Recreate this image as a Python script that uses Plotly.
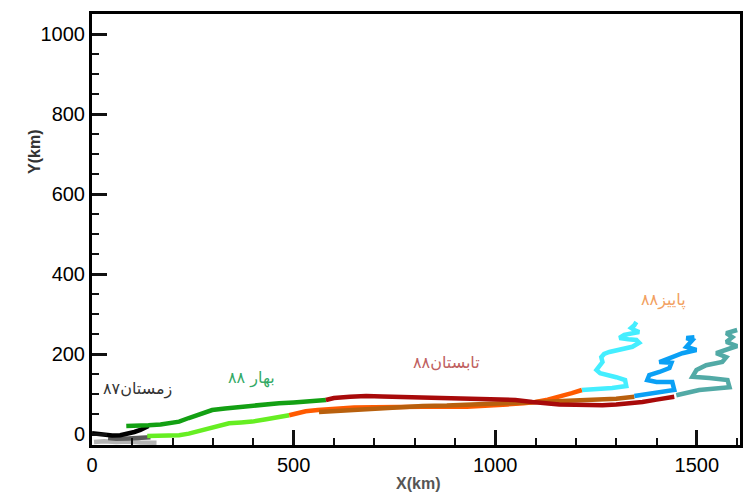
import plotly.graph_objects as go

# ---- data (km) ----
light_gray_x = [5, 30, 60, 90, 120, 150, 160]
light_gray_y = [-20, -18, -20, -19, -21, -20, -22]

dark_gray_x = [40, 60, 90, 110, 135, 145]
dark_gray_y = [-10, -12, -11, -9, -7, -8]

black_x = [0, 15, 30, 50, 70, 90, 105, 120, 135, 140]
black_y = [2, 0, -3, -4, -3, 0, 5, 10, 16, 20]

dark_green_x = [85, 110, 140, 170, 200, 216, 240, 258, 280, 298, 330, 365, 400, 430, 464, 500, 540, 580]
dark_green_y = [20, 20, 22, 24, 27, 31, 40, 47, 54, 60, 64, 68, 71, 73, 77, 79, 82, 85]

light_green_x = [137, 160, 190, 216, 240, 258, 280, 298, 320, 340, 370, 397, 432, 460, 489]
light_green_y = [-5, -5, -4, -3, 1, 6, 12, 18, 23, 27, 29, 31, 37, 42, 47]

orange_x = [489, 510, 530, 560, 600, 650, 700, 760, 820, 880, 930, 980, 1030, 1070, 1100, 1130, 1160, 1190, 1215]
orange_y = [47, 52, 57, 60, 63, 66, 67, 68, 68, 69, 68, 70, 74, 77, 80, 86, 93, 102, 110]

brown_x = [563, 596, 650, 700, 762, 820, 880, 928, 980, 1040, 1092, 1159, 1220, 1270, 1300, 1345]
brown_y = [55, 57, 62, 65, 68, 70, 71, 73, 75, 76, 78, 80, 84, 86, 88, 93]

dark_red_x = [580, 600, 640, 680, 720, 760, 800, 844, 880, 920, 960, 1010, 1050, 1092, 1130, 1159,
              1200, 1240, 1266, 1300, 1340, 1365, 1400, 1444]
dark_red_y = [85, 90, 93, 95, 94, 93, 93, 92, 92, 91, 90, 88, 85, 80, 76, 74,
              73, 72, 72, 74, 77, 80, 86, 93]

cyan_x = [1215, 1250, 1290, 1325, 1322, 1300, 1283, 1260, 1251, 1258, 1266, 1263, 1270, 1283, 1308,
          1340, 1357, 1350, 1330, 1308, 1320, 1337, 1357, 1345, 1337, 1345, 1350]
cyan_y = [110, 112, 115, 120, 135, 142, 147, 152, 160, 170, 180, 192, 200, 205, 210,
          218, 228, 235, 237, 240, 248, 252, 255, 260, 265, 272, 280]

blue_x = [1345, 1380, 1420, 1444, 1439, 1400, 1377, 1382, 1407, 1432, 1437, 1407, 1439, 1464, 1499,
          1474, 1489, 1474, 1494]
blue_y = [95, 100, 105, 110, 130, 130, 135, 147, 155, 165, 178, 180, 192, 202, 210,
          218, 235, 240, 242]

teal_x = [1449, 1506, 1581, 1576, 1531, 1489, 1499, 1523, 1563, 1573, 1548, 1581, 1600, 1573, 1588,
          1573, 1600]
teal_y = [97, 110, 117, 135, 140, 143, 160, 172, 180, 192, 202, 215, 220, 230, 242,
          252, 260]

labels = ["زمستان۸۷", "بهار ۸۸", "تابستان۸۸", "پاییز۸۸"]
label_x = [112, 395, 878, 1417]
label_y = [112, 140, 180, 335]
label_colors = ["#333333", "#33aa66", "#c06060", "#f2a060"]

x_major_step = 500
y_major_step = 200
x_minor_step = 100
y_minor_step = 50
x_range = [0, 1607]
y_range = [-27.5, 1050]

series = [
    (light_gray_x, light_gray_y, "#b4b4b4"),
    (dark_gray_x, dark_gray_y, "#5a5a5a"),
    (black_x, black_y, "#000000"),
    (light_green_x, light_green_y, "#66ee22"),
    (dark_green_x, dark_green_y, "#13a013"),
    (orange_x, orange_y, "#ff5a00"),
    (brown_x, brown_y, "#b8600e"),
    (dark_red_x, dark_red_y, "#a80a0a"),
    (cyan_x, cyan_y, "#44eeff"),
    (blue_x, blue_y, "#0aa0f5"),
    (teal_x, teal_y, "#52aaa6"),
]

fig = go.Figure()
for xs, ys, c in series:
    fig.add_trace(go.Scatter(x=xs, y=ys, mode="lines", line=dict(color=c, width=4.5),
                             showlegend=False))

for t, x, y, c in zip(labels, label_x, label_y, label_colors):
    fig.add_annotation(x=x, y=y, xref="x", yref="y", text=t, showarrow=False,
                       font=dict(family="DejaVu Sans", size=16, color=c))

fig.add_annotation(x=-0.088, y=0.68, xref="paper", yref="paper", text="<b>Y(km)</b>",
                   textangle=-90, showarrow=False, xanchor="center", yanchor="middle",
                   font=dict(family="Liberation Sans", size=16, color="#333333"))
fig.add_annotation(x=0.503, y=-0.09, xref="paper", yref="paper", text="<b>X(km)</b>",
                   showarrow=False, xanchor="center", yanchor="middle",
                   font=dict(family="Liberation Sans", size=16, color="#555555"))

fig.update_xaxes(range=x_range, dtick=x_major_step, showline=True, linecolor="black", linewidth=3,
                 mirror=True, ticks="inside", ticklen=15, tickwidth=3, tickcolor="#111111",
                 tickfont=dict(size=20, color="black"),
                 minor=dict(ticks="inside", ticklen=7, tickwidth=2, dtick=x_minor_step,
                            tickcolor="#111111"))
fig.update_yaxes(range=y_range, dtick=y_major_step, showline=True, linecolor="black", linewidth=3,
                 mirror=True, ticks="inside", ticklen=15, tickwidth=3, tickcolor="#111111",
                 tickfont=dict(size=20, color="black"),
                 minor=dict(ticks="inside", ticklen=7, tickwidth=2, dtick=y_minor_step,
                            tickcolor="#111111"))

fig.update_layout(width=755, height=500, margin=dict(l=92, r=15, t=14, b=55),
                  plot_bgcolor="white", paper_bgcolor="white",
                  font=dict(family="Liberation Sans"))

fig.write_html("out.html")
